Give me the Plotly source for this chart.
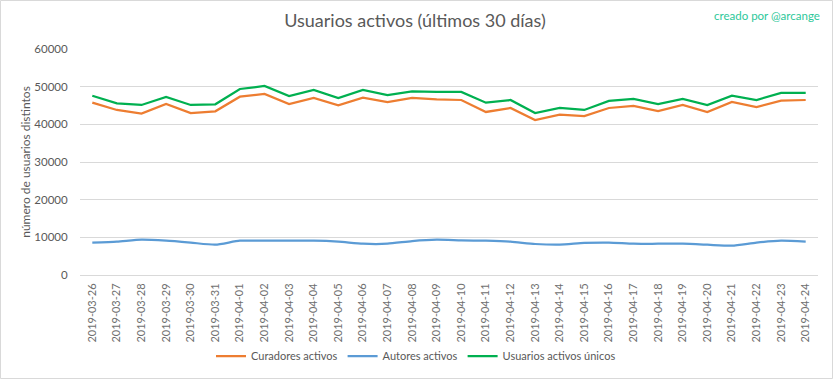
import plotly.graph_objects as go

fechas = ["2019-03-26", "2019-03-27", "2019-03-28", "2019-03-29", "2019-03-30", "2019-03-31",
          "2019-04-01", "2019-04-02", "2019-04-03", "2019-04-04", "2019-04-05", "2019-04-06",
          "2019-04-07", "2019-04-08", "2019-04-09", "2019-04-10", "2019-04-11", "2019-04-12",
          "2019-04-13", "2019-04-14", "2019-04-15", "2019-04-16", "2019-04-17", "2019-04-18",
          "2019-04-19", "2019-04-20", "2019-04-21", "2019-04-22", "2019-04-23", "2019-04-24"]

curadores = [45750, 43810, 42830, 45400, 43010, 43460, 47340, 48060, 45400, 46990,
             45060, 47070, 45930, 46990, 46650, 46460, 43280, 44340, 41150, 42560,
             42210, 44340, 44870, 43540, 45140, 43280, 45930, 44600, 46280, 46460]

autores = [8600, 8850, 9370, 9100, 8600, 8050, 9100, 9100, 9100, 9100,
           8850, 8300, 8300, 9000, 9370, 9200, 9100, 8850, 8230, 8050,
           8500, 8600, 8300, 8300, 8300, 8050, 7780, 8600, 9100, 8850]

unicos = [47600, 45590, 45140, 47260, 45140, 45320, 49380, 50180, 47520, 49120,
          46990, 49120, 47790, 48770, 48590, 48590, 45750, 46460, 43010, 44340,
          43810, 46200, 46730, 45400, 46730, 45140, 47600, 46460, 48320, 48320]

y_ticks = [0, 10000, 20000, 30000, 40000, 50000, 60000]
y_labels = ["0", "10000", "20000", "30000", "40000", "50000", "60000"]

FONT = "Lato"
GRAY = "#595959"

fig = go.Figure()
fig.add_trace(go.Scatter(x=fechas, y=curadores, name="Curadores activos", mode="lines",
                         line=dict(color="#ED7D31", width=2.25)))
fig.add_trace(go.Scatter(x=fechas, y=autores, name="Autores activos", mode="lines",
                         line=dict(color="#5B9BD5", width=2.25, shape="spline", smoothing=0.6)))
fig.add_trace(go.Scatter(x=fechas, y=unicos, name="Usuarios activos únicos", mode="lines",
                         line=dict(color="#00B050", width=2.25)))

fig.update_layout(
    width=833, height=379,
    margin=dict(l=80, r=15, t=49, b=104, autoexpand=False),
    paper_bgcolor="white", plot_bgcolor="white",
    font=dict(family=FONT, color=GRAY, size=11),
    title=dict(text="Usuarios activos (últimos 30 días)", x=(415 - 0) / 833, xanchor="center",
               y=1 - 21 / 379, yanchor="middle", automargin=False,
               font=dict(size=18, color=GRAY, family=FONT, weight="normal")),
    showlegend=True,
    legend=dict(orientation="h", x=(416 - 80) / 738, xanchor="center",
                y=-(356 - 275) / 226, yanchor="middle",
                font=dict(size=11, color=GRAY, family=FONT), itemwidth=30,
                tracegroupgap=0),
    xaxis=dict(type="category", range=[-0.5, len(fechas) - 0.5], tickangle=-90,
               automargin=False,
               showgrid=False, showline=True, linecolor="#D9D9D9",
               ticks="outside", ticklen=3, tickcolor="rgba(0,0,0,0)",
               tickfont=dict(size=11, color="#707070")),
    yaxis=dict(range=[0, 60000], tickvals=y_ticks, ticktext=y_labels,
               automargin=False,
               showgrid=True, gridcolor="#D9D9D9",
               zeroline=False, showline=False,
               ticks="outside", ticklen=9, tickcolor="rgba(0,0,0,0)",
               tickfont=dict(size=11.5, color=GRAY),
               title=dict(text="número de usuarios distintos", font=dict(size=12, color=GRAY),
                          standoff=1)),
    annotations=[dict(text="creado por @arcange", xref="paper", yref="paper",
                      x=1 + 4 / 738, y=1 + 34 / 226, xanchor="right", yanchor="middle",
                      showarrow=False, font=dict(size=11.5, color="#2DC89A", family=FONT))],
    shapes=[dict(type="rect", xref="paper", yref="paper",
                 x0=-79.5 / 738, x1=1 + 14.5 / 738, y0=-103.5 / 226, y1=1 + 48.5 / 226,
                 line=dict(color="#D9D9D9", width=1), fillcolor="rgba(0,0,0,0)")],
)

fig.write_html("out.html", config={"displayModeBar": False},
               post_script="document.body.style.margin='0';document.body.style.overflow='hidden';")
